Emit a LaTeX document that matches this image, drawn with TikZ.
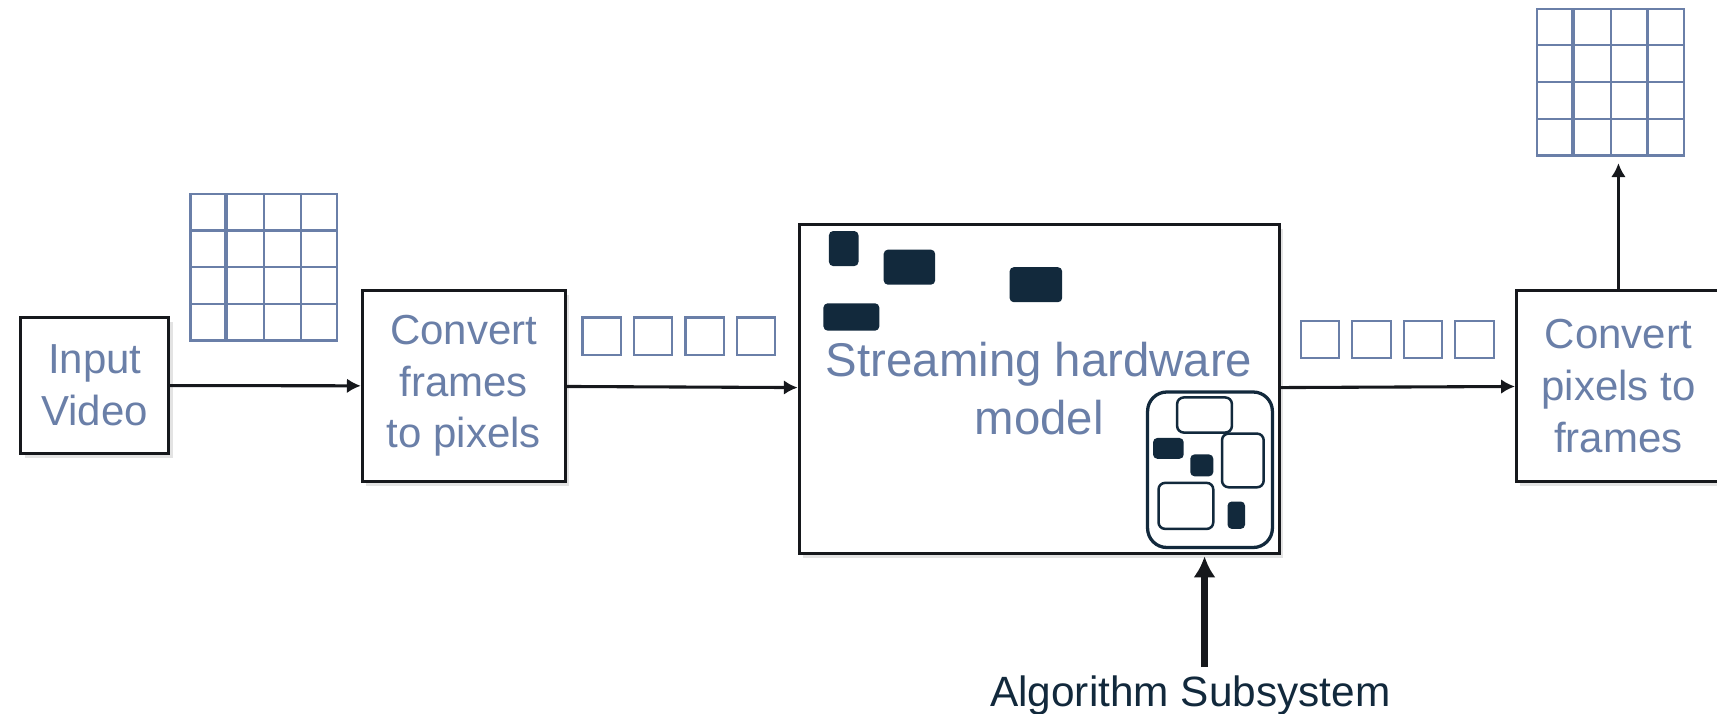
\documentclass[tikz,border=0pt]{standalone}
\usepackage{fontspec}
\setmainfont{Liberation Sans}
\usetikzlibrary{arrows.meta,shadows}
\definecolor{PixelBlue}{RGB}{106,127,168}
\definecolor{BlockNavy}{RGB}{18,41,60}
\definecolor{EdgeBlack}{RGB}{22,24,28}
\tikzset{
  every node/.style={
    font=\fontsize{10.9}{13.4}\selectfont
  },
  stage/.style={
    shape=rectangle,
    draw=EdgeBlack,
    line width=0.8pt,
    fill=white,
    text=PixelBlue,
    align=center,
    inner sep=0pt,
    drop shadow={shadow xshift=1pt,shadow yshift=-1.2pt,opacity=0.18,fill=black!60}
  },
  flow/.style={
    draw=EdgeBlack,
    line width=0.8pt,
    -{Latex[length=3.6pt,width=3.8pt]}
  },
  bigflow/.style={
    draw=EdgeBlack,
    line width=1.7pt,
    -{Latex[length=5.5pt,width=5.8pt]}
  },
  gridline/.style={
    draw=PixelBlue,
    line width=0.55pt
  },
  hwblock/.style={
    fill=BlockNavy,
    rounded corners=1.1pt
  },
  hwslot/.style={
    draw=BlockNavy,
    line width=0.65pt,
    rounded corners=1.7pt
  },
  subsys/.style={
    draw=BlockNavy,
    line width=0.85pt,
    rounded corners=5pt
  }
}

\begin{document}
\begin{tikzpicture}[x=0.01cm,y=0.01cm]
    \useasboundingbox (0,0) rectangle (1568,652);

    \node (input) [stage,minimum width=1.35cm,minimum height=1.24cm] at (86.5,300) {Input\\Video};
    \node (frames) [stage,minimum width=1.85cm,minimum height=1.75cm] at (423.5,299.5) {Convert\\frames\\to pixels};
    \node (stream) [stage,minimum width=4.38cm,minimum height=3cm,
      font=\fontsize{12.3}{14.9}\selectfont] at (949,297) {Streaming hardware\\model};
    \node (pixels) [stage,minimum width=1.86cm,minimum height=1.75cm] at (1478,299.5) {Convert\\pixels to\\frames};
    \node (alg) [anchor=base,inner sep=2pt,text=BlockNavy,font=\fontsize{11}{13}\selectfont] at (1087,7) {Algorithm Subsystem};
    \coordinate (alg in) at (1100,144);
    \coordinate (grid out) at (1478,503);

    % pixel grids
    \foreach \gx/\gy in {174/341, 1404/510} {
      \draw[gridline] (\gx,\gy) rectangle ++(134,134);
      \foreach \k in {1,2,3} {
        \draw[gridline] (\gx,\gy+33.5*\k) -- ++(134,0);
        \draw[gridline] (\gx+33.5*\k,\gy) -- ++(0,134);
      }
      \draw[gridline] (\gx+31.5,\gy) -- ++(0,134);
    }

    % pixel streams
    \foreach \sx in {532,579,626,673}
      \draw[gridline] (\sx,328) rectangle ++(35,34);
    \foreach \sx in {1188,1235,1282,1329}
      \draw[gridline] (\sx,325) rectangle ++(35,34);

    % hardware blocks
    \fill[hwblock] (757,409) rectangle (784,441);
    \fill[hwblock] (807,392) rectangle (854,424);
    \fill[hwblock] (922,376) rectangle (970,408);
    \fill[hwblock] (752,350) rectangle (803,375);
    \draw[subsys] (1048,152) rectangle (1162,294);
    \draw[hwslot] (1075,257) rectangle (1125,289);
    \draw[hwslot] (1116,207) rectangle (1154,256);
    \draw[hwslot] (1058,169) rectangle (1108,211);
    \fill[hwblock] (1053,233) rectangle (1081,252);
    \fill[hwblock] (1087,217) rectangle (1108,237);
    \fill[hwblock] (1121,169) rectangle (1137,194);

    \draw[flow] (input) -- (frames);
    \draw[flow] (frames) -- (stream);
    \draw[flow] (stream) -- (pixels);
    \draw[flow] (pixels) -- (grid out);
    \draw[bigflow] (alg.north -| alg in) -- (alg in);
\end{tikzpicture}
\end{document}
